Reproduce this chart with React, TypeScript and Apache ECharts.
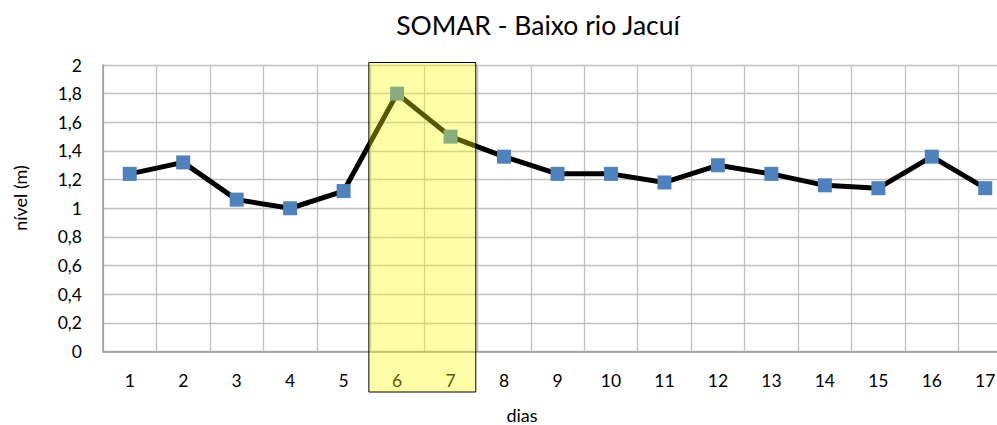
import React, { useEffect, useRef } from 'react';
import * as echarts from 'echarts';

const categories = ['1', '2', '3', '4', '5', '6', '7', '8', '9', '10', '11', '12', '13', '14', '15', '16', '17'];
const nivel = [1.24, 1.32, 1.06, 1.0, 1.12, 1.8, 1.5, 1.36, 1.24, 1.24, 1.18, 1.3, 1.24, 1.16, 1.14, 1.36, 1.14];
const highlightDays = ['6', '7'];
const titleText = 'SOMAR - Baixo rio Jacuí';
const yName = 'nível (m)';
const xName = 'dias';

const FONT = 'Lato, "Open Sans", sans-serif';

function fmt(v: number): string {
  return String(Number(v.toFixed(1))).replace('.', ',');
}

export default function App() {
  const ref = useRef<HTMLDivElement>(null);
  useEffect(() => {
    if (!ref.current) return;
    const chart = echarts.init(ref.current, undefined, { renderer: 'svg' });
    const option: any = {
      animation: false,
      backgroundColor: '#ffffff',
      grid: { left: 103, top: 65, right: 0, height: 286.5, containLabel: false },
      xAxis: {
        type: 'category',
        data: categories,
        boundaryGap: true,
        axisLine: { show: true, lineStyle: { color: '#9a9a9a', width: 1.5 } },
        axisTick: { show: false },
        axisLabel: { color: '#000', fontSize: 17.5, fontFamily: FONT, margin: 20, interval: 0 },
        splitLine: { show: true, interval: 0, lineStyle: { color: '#c0c0c0', width: 1.3 } },
      },
      yAxis: {
        type: 'value',
        min: 0,
        max: 2,
        interval: 0.2,
        axisLine: { show: true, lineStyle: { color: '#9a9a9a', width: 1.5 } },
        axisTick: { show: false },
        axisLabel: { color: '#000', fontSize: 17.5, fontFamily: FONT, margin: 21, formatter: (v: number) => fmt(v) },
        splitLine: { show: true, lineStyle: { color: '#c0c0c0', width: 1.3 } },
      },
      series: [
        {
          type: 'line',
          data: nivel,
          symbol: 'rect',
          symbolSize: 14,
          lineStyle: { color: '#000000', width: 5 },
          itemStyle: { color: '#4F81BD' },
          z: 3,
        },
      ],
      graphic: [
        {
          type: 'text',
          x: 538,
          y: 25,
          style: { text: titleText, fontSize: 26.5, fontFamily: FONT, fill: '#000', textAlign: 'center', textVerticalAlign: 'middle' },
        },
        {
          type: 'text',
          x: 20,
          y: 198,
          rotation: Math.PI / 2,
          style: { text: yName, fontSize: 18, fontFamily: FONT, fill: '#000', textAlign: 'center', textVerticalAlign: 'middle' },
        },
        {
          type: 'text',
          x: 522,
          y: 415,
          style: { text: xName, fontSize: 18, fontFamily: FONT, fill: '#000', textAlign: 'center', textVerticalAlign: 'middle' },
        },
      ],
    };
    chart.setOption(option);

    const xa = chart.convertToPixel({ xAxisIndex: 0 }, highlightDays[0]) as number;
    const xb = chart.convertToPixel({ xAxisIndex: 0 }, highlightDays[highlightDays.length - 1]) as number;
    const band = (chart.convertToPixel({ xAxisIndex: 0 }, categories[1]) as number) - (chart.convertToPixel({ xAxisIndex: 0 }, categories[0]) as number);
    const left = xa - band / 2 - 1.5;
    const right = xb + band / 2 - 1.5;
    chart.setOption({
      graphic: [
        ...option.graphic,
        {
          type: 'rect',
          z: 100,
          shape: { x: left, y: 62.5, width: right - left, height: 392 - 62.5 },
          style: { fill: 'rgba(255,255,0,0.34)', stroke: '#000000', lineWidth: 1 },
        },
      ],
    });

    return () => chart.dispose();
  }, []);
  return (
    <div style={{ position: 'fixed', left: 0, top: 0, width: 997, height: 425, overflow: 'hidden', background: '#fff' }}>
      <div ref={ref} style={{ width: 1012, height: 425 }} />
    </div>
  );
}
